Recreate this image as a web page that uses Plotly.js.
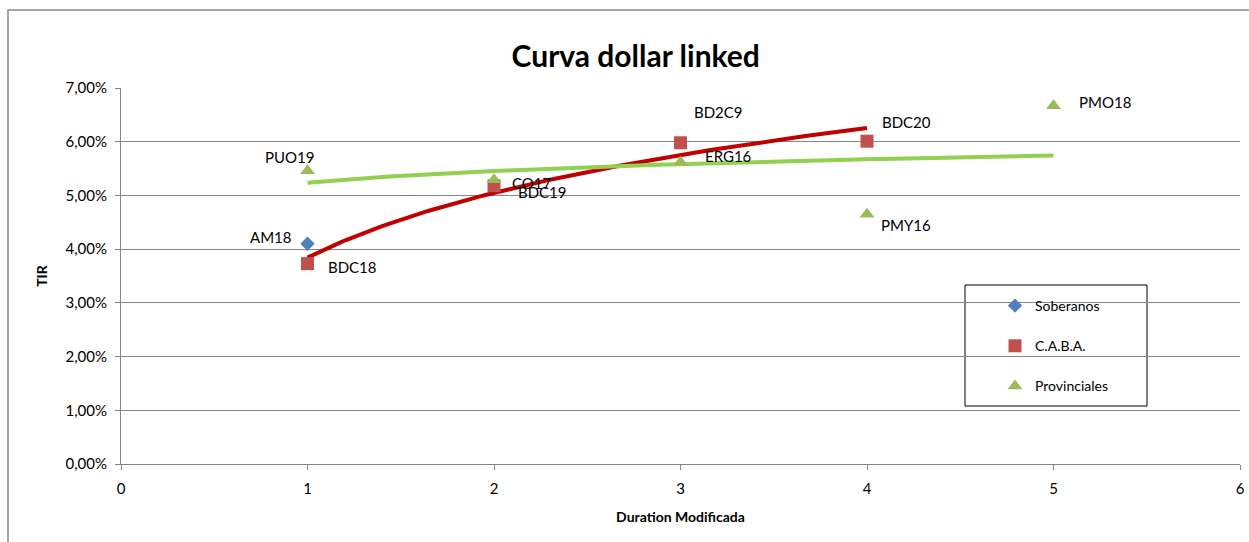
<!DOCTYPE html>
<html>
<head>
<meta charset="utf-8">
<script src="https://cdn.plot.ly/plotly-3.0.1.min.js"></script>
<style>html,body{margin:0;padding:0;background:#fff;}#chart{width:1249px;height:542px;}</style>
</head>
<body>
<div id="chart"></div>
<script>
// Data (TIR in %)
const soberanosNames = ["AM18"];
const soberanosX = [1];
const soberanosY = [4.10];

const cabaNames = ["BDC18", "BDC19", "BD2C9", "BDC20"];
const cabaX = [1, 2, 3, 4];
const cabaY = [3.73, 5.18, 5.98, 6.01];

const provNames = ["PUO19", "CO17", "ERG16", "PMY16", "PMO18"];
const provX = [1, 2, 3, 4, 5];
const provY = [5.46, 5.29, 5.62, 4.65, 6.67];

const yTicks = [0, 1, 2, 3, 4, 5, 6, 7];
const yTickLabels = ["0,00%", "1,00%", "2,00%", "3,00%", "4,00%", "5,00%", "6,00%", "7,00%"];
const xTicks = [0, 1, 2, 3, 4, 5, 6];

// logarithmic trendline (least squares on ln x), like Excel
function logFit(xs, ys) {
  const lx = xs.map(Math.log);
  const n = xs.length;
  const mx = lx.reduce((a, b) => a + b, 0) / n;
  const my = ys.reduce((a, b) => a + b, 0) / n;
  let sxx = 0, sxy = 0;
  for (let i = 0; i < n; i++) { sxx += (lx[i] - mx) ** 2; sxy += (lx[i] - mx) * (ys[i] - my); }
  const b = sxy / sxx, a = my - b * mx;
  const x0 = Math.min(...xs), x1 = Math.max(...xs);
  const tx = [], ty = [];
  for (let i = 0; i <= 100; i++) { const x = x0 + (x1 - x0) * i / 100; tx.push(x); ty.push(a + b * Math.log(x)); }
  return {x: tx, y: ty};
}
const cabaTrend = logFit(cabaX, cabaY);
const provTrend = logFit(provX, provY);

const FONT = "Lato, 'Open Sans', sans-serif";

const traces = [
  {x: cabaTrend.x, y: cabaTrend.y, mode: "lines", line: {color: "#C00000", width: 4}, showlegend: false, hoverinfo: "skip"},
  {x: provTrend.x, y: provTrend.y, mode: "lines", line: {color: "#92D050", width: 4}, showlegend: false, hoverinfo: "skip"},
  {x: soberanosX, y: soberanosY, name: "Soberanos", mode: "markers", legendgroup: "a",
   marker: {symbol: "diamond", color: "#4F81BD", size: 11}},
  {x: cabaX, y: cabaY, name: "C.A.B.A.", mode: "markers", legendgroup: "b",
   marker: {symbol: "square", color: "#C0504D", size: 13}},
  {x: provX, y: provY, name: "Provinciales", mode: "markers", legendgroup: "c",
   marker: {symbol: "triangle-up", color: "#9BBB59", size: 13}}
];

// label offsets (px) per point
const sobOff = [[-37, -7]];
const cabaOff = [[45, 3], [48, 6], [38, -31], [39, -19]];
const provOff = [[-18, -14], [38, 3], [48, -6], [39, 11], [51, -4]];

const annotations = [];
function addLabels(names, xs, ys, offs) {
  names.forEach((n, i) => annotations.push({
    x: xs[i], y: ys[i], xref: "x", yref: "y", text: n, showarrow: false,
    xshift: offs[i][0], yshift: -offs[i][1], font: {family: FONT, size: 15, color: "#000"}
  }));
}
addLabels(soberanosNames, soberanosX, soberanosY, sobOff);
addLabels(cabaNames, cabaX, cabaY, cabaOff);
addLabels(provNames, provX, provY, provOff);

const W = 1119, H = 376; // plot area
const px = v => (v - 121) / W;
const py = v => (464 - v) / H;

const layout = {
  width: 1249, height: 542,
  margin: {l: 121, r: 9, t: 88, b: 78},
  paper_bgcolor: "#fff", plot_bgcolor: "#fff",
  font: {family: FONT, size: 15, color: "#000"},
  title: {text: "<b>Curva dollar linked</b>", x: 0.509, xref: "container", xanchor: "center",
          y: 0.915, yref: "container", font: {family: FONT, size: 30, color: "#000"}},
  xaxis: {range: [0, 6], tickvals: xTicks, ticks: "outside", ticklen: 5, tickcolor: "#868686",
          showline: true, linecolor: "#868686", linewidth: 1, showgrid: false, zeroline: false,
          ticklabelstandoff: 6,
          tickfont: {family: FONT, size: 15, color: "#000"},
          title: {text: "<b>Duration Modificada</b>", font: {family: FONT, size: 14, color: "#000"}, standoff: 16}},
  yaxis: {range: [0, 7], tickmode: "array", tickvals: yTicks, ticktext: yTickLabels, ticks: "outside", ticklen: 5,
          tickcolor: "#868686", showline: true, linecolor: "#868686", linewidth: 1,
          showgrid: true, gridcolor: "#868686", gridwidth: 1, zeroline: false,
          ticklabelstandoff: 5,
          tickfont: {family: FONT, size: 15, color: "#000"},
          title: {text: "<b>TIR</b>", font: {family: FONT, size: 14, color: "#000"}, standoff: 14}},
  legend: {x: px(995), y: py(290), xanchor: "left", yanchor: "top", bgcolor: "rgba(0,0,0,0)",
           borderwidth: 0, traceorder: "grouped", tracegroupgap: 19,
           font: {family: FONT, size: 14, color: "#000"}, itemwidth: 30},
  shapes: [
    {type: "rect", xref: "paper", yref: "paper", x0: px(965), x1: px(1147), y0: py(406), y1: py(285),
     line: {color: "#000", width: 1}, fillcolor: "rgba(0,0,0,0)", layer: "below"},
    {type: "rect", xref: "paper", yref: "paper", x0: px(8), x1: px(1260), y0: py(560), y1: py(10),
     line: {color: "#888", width: 1.5}, fillcolor: "rgba(0,0,0,0)"}
  ],
  annotations: annotations
};

Plotly.newPlot("chart", traces, layout, {displayModeBar: false, staticPlot: true});
</script>
</body>
</html>
